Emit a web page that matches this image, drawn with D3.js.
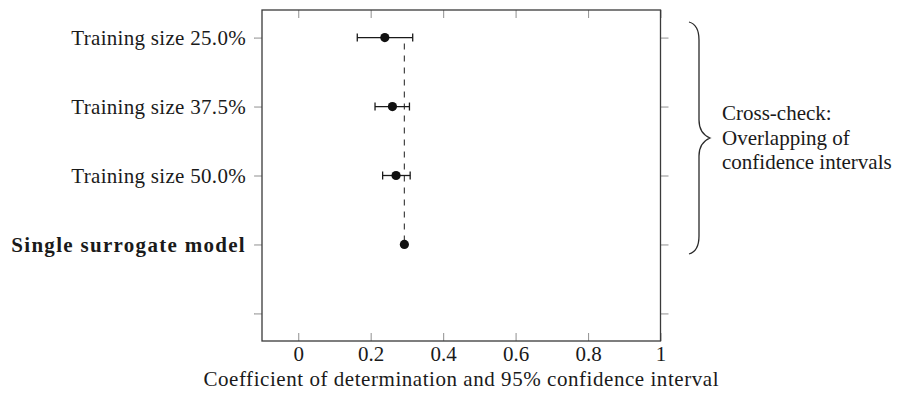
<!DOCTYPE html>
<html>
<head>
<meta charset="utf-8">
<script src="https://cdn.jsdelivr.net/npm/d3@7"></script>
<style>
  html, body { margin: 0; padding: 0; background: #fff; }
  svg { display: block; }
  text { font-family: "Liberation Serif", "Times New Roman", serif; fill: #1a1a1a; }
</style>
</head>
<body>
<svg id="chart" width="899" height="397"></svg>
<script>
// ---- data ----
const categories = ["Training size 25.0%", "Training size 37.5%", "Training size 50.0%", "Single surrogate model", ""];
const estimates = [0.239, 0.260, 0.270, 0.293];
const ciLower = [0.163, 0.212, 0.233, null];
const ciUpper = [0.316, 0.307, 0.309, null];
const xTicks = [0, 0.2, 0.4, 0.6, 0.8, 1];
const xTickLabels = ["0", "0.2", "0.4", "0.6", "0.8", "1"];
const referenceValue = [0.293];
const xTitle = "Coefficient of determination and 95% confidence interval";
const braceLines = ["Cross-check:", "Overlapping of", "confidence intervals"];
const boldCategories = ["Single surrogate model"];

(function () {
// ---- layout ----
const svg = d3.select("#chart");
const plot = { left: 262, right: 660.5, top: 10, bottom: 341 };

const x = d3.scaleLinear().domain([-0.1, 1.0]).range([plot.left, plot.right]);
const y = d3.scalePoint().domain(categories).range([plot.top, plot.bottom]).padding(0.4);

const fontSize = 21;

// dashed reference line (behind marks)
svg.append("line")
  .attr("x1", x(referenceValue[0])).attr("x2", x(referenceValue[0]))
  .attr("y1", y(categories[0])).attr("y2", y(categories[3]))
  .attr("stroke", "#444").attr("stroke-width", 1.2)
  .attr("stroke-dasharray", "6,6").attr("stroke-dashoffset", 6);

// y axis left (ticks outward)
const yAxisL = svg.append("g").attr("transform", `translate(${plot.left},0)`)
  .call(d3.axisLeft(y).tickSize(8).tickPadding(8));
yAxisL.select(".domain").remove();
yAxisL.selectAll(".tick line").attr("stroke", "#9a9a9a").attr("stroke-width", 1.1);
yAxisL.selectAll(".tick text")
  .attr("font-size", fontSize).attr("fill", "#1a1a1a")
  .attr("font-family", "Liberation Serif, serif")
  .attr("font-weight", d => boldCategories.includes(d) ? "bold" : "normal")
  .attr("letter-spacing", d => boldCategories.includes(d) ? 1.3 : 0.3);

// y axis right (ticks outward)
const yAxisR = svg.append("g").attr("transform", `translate(${plot.right},0)`)
  .call(d3.axisRight(y).tickSize(8).tickFormat(""));
yAxisR.select(".domain").remove();
yAxisR.selectAll(".tick line").attr("stroke", "#9a9a9a").attr("stroke-width", 1.1);

// x axis bottom (ticks inward)
const xAxisB = svg.append("g").attr("transform", `translate(0,${plot.bottom})`)
  .call(d3.axisBottom(x).tickValues(xTicks).tickSize(-8).tickPadding(0).tickFormat((d, i) => xTickLabels[i]));
xAxisB.select(".domain").remove();
xAxisB.selectAll(".tick line").attr("stroke", "#9a9a9a").attr("stroke-width", 1.1);
xAxisB.selectAll(".tick text")
  .attr("font-size", fontSize).attr("fill", "#1a1a1a")
  .attr("font-family", "Liberation Serif, serif")
  .attr("y", 20).attr("dy", 0);

// x axis top (ticks inward)
const xAxisT = svg.append("g").attr("transform", `translate(0,${plot.top})`)
  .call(d3.axisTop(x).tickValues(xTicks).tickSize(-8).tickFormat(""));
xAxisT.select(".domain").remove();
xAxisT.selectAll(".tick line").attr("stroke", "#9a9a9a").attr("stroke-width", 1.1);

// frame
svg.append("rect")
  .attr("x", plot.left).attr("y", plot.top)
  .attr("width", plot.right - plot.left).attr("height", plot.bottom - plot.top)
  .attr("fill", "none").attr("stroke", "#3a3a3a").attr("stroke-width", 1.3);

// error bars
const rows = categories.slice(0, estimates.length).map((c, i) => ({
  cat: c, est: estimates[i], lo: ciLower[i], hi: ciUpper[i]
}));
const eb = svg.append("g").attr("stroke", "#1a1a1a").attr("stroke-width", 1.3);
rows.filter(d => d.lo !== null).forEach(d => {
  const yy = y(d.cat);
  eb.append("line").attr("x1", x(d.lo)).attr("x2", x(d.hi)).attr("y1", yy).attr("y2", yy);
  eb.append("line").attr("x1", x(d.lo)).attr("x2", x(d.lo)).attr("y1", yy - 4).attr("y2", yy + 4);
  eb.append("line").attr("x1", x(d.hi)).attr("x2", x(d.hi)).attr("y1", yy - 4).attr("y2", yy + 4);
});

// points
svg.append("g").selectAll("circle").data(rows).join("circle")
  .attr("cx", d => x(d.est)).attr("cy", d => y(d.cat)).attr("r", 4.6)
  .attr("fill", "#111");

// x title
svg.append("text")
  .attr("x", (plot.left + plot.right) / 2).attr("y", 386)
  .attr("text-anchor", "middle").attr("font-size", fontSize)
  .attr("letter-spacing", 0.55)
  .text(xTitle);

// brace
const bx = 699, tipX = 710, bTop = 22, bBot = 254, mid = (bTop + bBot) / 2;
const brace = `M ${bx - 10} ${bTop}
  C ${bx - 3} ${bTop + 2}, ${bx} ${bTop + 8}, ${bx} ${bTop + 18}
  L ${bx} ${mid - 18}
  C ${bx} ${mid - 8}, ${bx + 4} ${mid - 3}, ${tipX} ${mid}
  C ${bx + 4} ${mid + 3}, ${bx} ${mid + 8}, ${bx} ${mid + 18}
  L ${bx} ${bBot - 18}
  C ${bx} ${bBot - 8}, ${bx - 3} ${bBot - 2}, ${bx - 10} ${bBot}`;
svg.append("path").attr("d", brace).attr("fill", "none")
  .attr("stroke", "#2a2a2a").attr("stroke-width", 1.3);

// brace text
svg.append("g").selectAll("text").data(braceLines).join("text")
  .attr("x", 722).attr("y", (d, i) => 120 + i * 24.5)
  .attr("font-size", fontSize)
  .text(d => d);
})();
</script>
</body>
</html>
